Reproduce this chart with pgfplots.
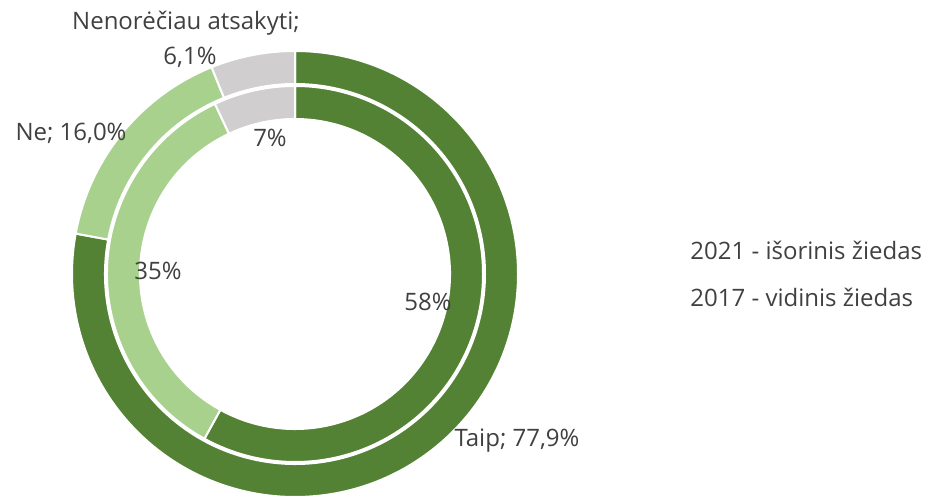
\documentclass[border=0pt]{standalone}
\usepackage{pgfplots}
\usepackage{pgfplotstable}
\pgfplotsset{compat=1.18}
\usepackage{fontspec}
\setmainfont{Open Sans}
\definecolor{dgreen}{HTML}{548235}
\definecolor{lgreen}{HTML}{A9D18E}
\definecolor{lgray}{HTML}{D0CECE}
\definecolor{txt}{HTML}{404040}

\pgfplotstableread{
cat y2021 y2017
Taip 77.9 58
Ne 16.0 35
Nenoreciau 6.1 7
}\donut

% #1 column, #2 outer radius (px), #3 inner radius (px)
\newcommand\ring[3]{%
  \gdef\cum{0}%
  \foreach \i/\col in {0/dgreen,1/lgreen,2/lgray}{%
    \pgfplotstablegetelem{\i}{#1}\of\donut
    \let\v\pgfplotsretval
    \pgfmathsetmacro\aS{90-3.6*\cum}%
    \pgfmathsetmacro\aE{90-3.6*(\cum+\v)}%
    \pgfmathsetmacro\xo{295+#2*cos(\aS)}%
    \pgfmathsetmacro\yo{222+#2*sin(\aS)}%
    \pgfmathsetmacro\xi{295+#3*cos(\aE)}%
    \pgfmathsetmacro\yi{222+#3*sin(\aE)}%
    \fill[\col, draw=white, line width=1pt]
      (axis cs:\xo,\yo) arc[start angle=\aS, end angle=\aE, radius=#2*0.5pt]
      -- (axis cs:\xi,\yi) arc[start angle=\aE, end angle=\aS, radius=#3*0.5pt] -- cycle;
    \pgfmathsetmacro\c{\cum+\v}%
    \xdef\cum{\c}%
  }%
}

\begin{document}
\begin{tikzpicture}
\begin{axis}[x=0.5pt, y=0.5pt, xmin=0, xmax=952, ymin=0, ymax=496,
  hide axis, clip=false]
\pgfplotsextra{%
  \ring{y2021}{223}{190}%
  \ring{y2017}{188}{155}%
}
\coordinate (SW) at (axis cs:0,0);
\coordinate (NE) at (axis cs:952,496);
\begin{scope}[every node/.style={font=\fontsize{12}{14}\selectfont, text=txt, inner sep=0pt}]
\node at (axis cs:186,473) {Nenorėčiau atsakyti;};
\node at (axis cs:190,439) {6,1\%};
\node at (axis cs:71,363) {Ne; 16,0\%};
\node at (axis cs:270,358) {7\%};
\node at (axis cs:158,225) {35\%};
\node at (axis cs:428,194) {58\%};
\node at (axis cs:517,55) {Taip; 77,9\%};
\node[anchor=west] at (axis cs:690,246) {2021 - išorinis žiedas};
\node[anchor=west] at (axis cs:690,199) {2017 - vidinis žiedas};
\end{scope}
\end{axis}
\pgfresetboundingbox
\path (SW) rectangle (NE);
\end{tikzpicture}
\end{document}
